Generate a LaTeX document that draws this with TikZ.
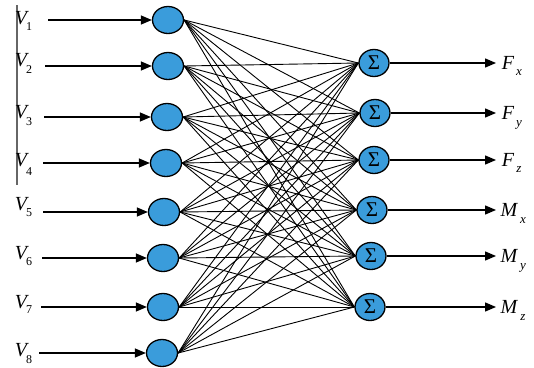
\documentclass[tikz,border=0pt]{standalone}
\usepackage{fontspec}
\setmainfont{Liberation Serif}
\usetikzlibrary{shapes.geometric,arrows.meta}
\definecolor{nblue}{RGB}{58,156,219}
\begin{document}
\begin{tikzpicture}[x=1pt,y=-1pt,
  neuron/.style={ellipse,draw=black,line width=1.3pt,fill=nblue,minimum width=31pt,minimum height=27pt,inner sep=0pt},
  sumnode/.style={neuron,minimum width=30pt,font=\fontsize{21}{21}\selectfont},
  conn/.style={line width=0.9pt},
  arr/.style={line width=1.3pt,-{Triangle[length=11pt,width=9pt]}},
  lab/.style={font=\fontsize{20}{20}\selectfont\itshape,inner sep=0pt},
  sub/.style={font=\fontsize{12}{12}\selectfont,inner sep=0pt},
  subi/.style={font=\fontsize{13}{13}\selectfont\itshape,inner sep=0pt}]
\useasboundingbox (0,0) rectangle (534,367);
\fill[white] (0,0) rectangle (534,367);
% left vertical bar
\coordinate (bt) at (17,5);
\coordinate (bb) at (17,185);
\draw[gray!80!black,line width=1.3pt] (bt) -- (bb);
% input nodes, arrow starts and labels
\foreach \i/\nx/\ny/\sx/\vy/\sy in {1/168/20/48/18/27, 2/168/66/45/60/70, 3/167/117/44/112/122, 4/166/163/43/160/172, 5/164/212/43/204/213, 6/163/258/42/253/262, 7/163/307/41/302/310, 8/162/353/39/350/360}{
  \node[neuron] (in\i) at (\nx,\ny) {};
  \coordinate (s\i) at (\sx,\ny);
  \draw[arr] (s\i) -- (in\i.west);
  \node[lab] (v\i) at (21,\vy) {V};
  \node[sub] (vs\i) at (29,\sy) {\i};
}
% output nodes
\foreach \j/\ox/\oy in {1/374/63, 2/375/113, 3/374/160, 4/372/210, 5/371/256, 6/370/307}{
  \node[sumnode] (out\j) at (\ox,\oy) {Σ};
  \coordinate (e\j) at (496,\oy);
  \draw[arr] (out\j.east) -- (e\j);
}
% full connections
\foreach \i in {1,...,8}{
  \foreach \j in {1,...,6}{
    \draw[conn] (in\i.east) -- (out\j.west);
  }
}
% output labels
\node[lab] (fx) at (508,63) {F};  \node[subi] (fxs) at (519,73) {x};
\node[lab] (fy) at (508,113) {F}; \node[subi] (fys) at (519,125) {y};
\node[lab] (fz) at (508,160) {F}; \node[subi] (fzs) at (519,170) {z};
\node[lab] (mx) at (509,210) {M}; \node[subi] (mxs) at (523,221) {x};
\node[lab] (my) at (509,256) {M}; \node[subi] (mys) at (523,268) {y};
\node[lab] (mz) at (509,307) {M}; \node[subi] (mzs) at (523,318) {z};
\end{tikzpicture}
\end{document}
